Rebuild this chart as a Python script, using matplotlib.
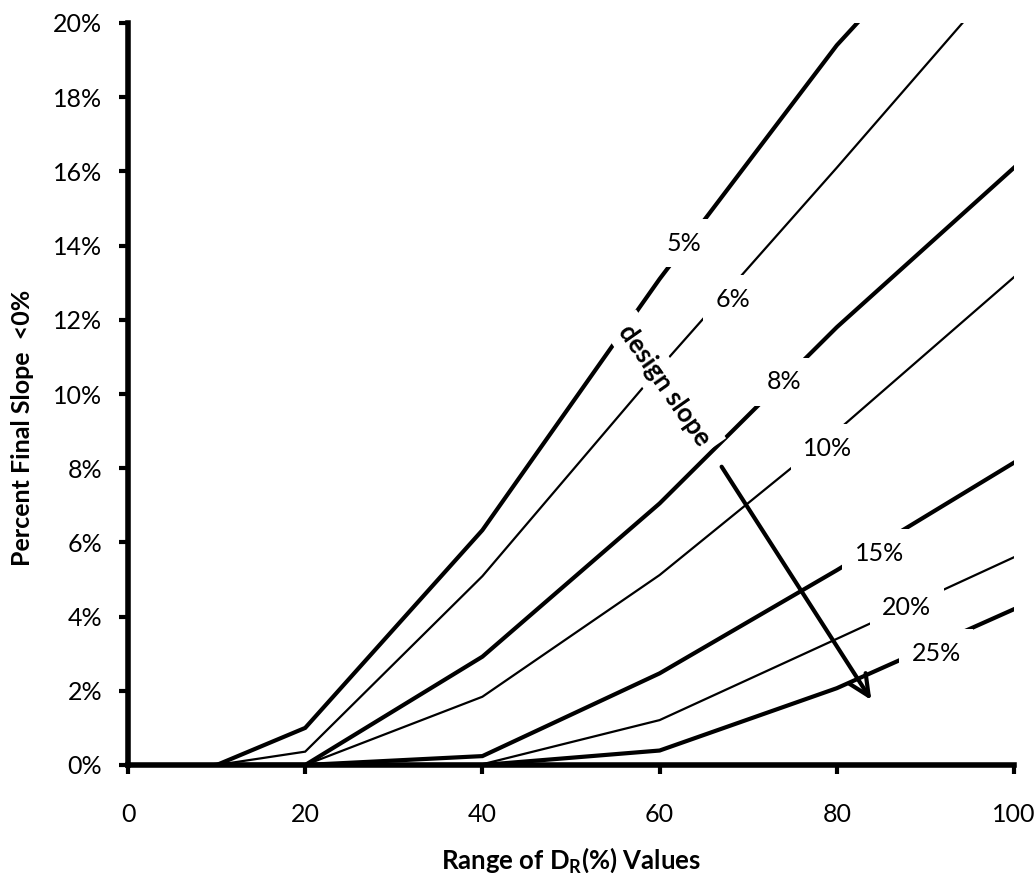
import matplotlib
matplotlib.use('Agg')
import matplotlib.pyplot as plt
from matplotlib.ticker import FuncFormatter

plt.rcParams['font.family'] = ['Lato', 'DejaVu Sans']
plt.rcParams['mathtext.fontset'] = 'custom'
plt.rcParams['mathtext.rm'] = 'Lato:bold'
plt.rcParams['mathtext.bf'] = 'Lato:bold'

# range of D_R values (x) and percent of final slopes < 0% for each design slope
dr_range = [10, 20, 40, 60, 80, 100]
slope_5 = [0, 1.0, 6.33, 13.1, 19.4, 24.6]
slope_6 = [0, 0.36, 5.09, 10.7, 16.1, 21.6]
slope_8 = [0, 0, 2.92, 7.05, 11.8, 16.1]
slope_10 = [0, 0, 1.84, 5.12, 9.0, 13.15]
slope_15 = [0, 0, 0.24, 2.47, 5.25, 8.15]
slope_20 = [0, 0, 0.02, 1.21, 3.4, 5.6]
slope_25 = [0, 0, 0, 0.39, 2.07, 4.2]

series = [
    ('5%', slope_5, 3.0, (62.7, 14.06)),
    ('6%', slope_6, 1.6, (68.3, 12.55)),
    ('8%', slope_8, 3.0, (74.0, 10.33)),
    ('10%', slope_10, 1.6, (79.0, 8.54)),
    ('15%', slope_15, 3.0, (84.8, 5.71)),
    ('20%', slope_20, 1.6, (87.9, 4.25)),
    ('25%', slope_25, 3.0, (91.2, 3.01)),
]

fig = plt.figure(figsize=(10.34, 8.73), dpi=100)
ax = fig.add_axes([128 / 1034, 1 - 765 / 873, 886 / 1034, 742 / 873])

for name, vals, lw, pos in series:
    ax.plot(dr_range, vals, color='black', lw=lw, solid_joinstyle='miter')
    ax.text(pos[0], pos[1], name, fontsize=18, ha='center', va='center',
            bbox=dict(boxstyle='square,pad=0.5', facecolor='white', edgecolor='none'))

ax.text(60.6, 10.24, 'design slope', fontsize=18.5, fontweight='bold', rotation=-55,
        ha='center', va='center', rotation_mode='anchor',
        bbox=dict(boxstyle='square,pad=0.3', facecolor='white', edgecolor='none'))

ax.annotate('', xy=(83.9, 1.75), xytext=(67.0, 8.04),
            arrowprops=dict(arrowstyle='->,head_length=0.75,head_width=0.35',
                            mutation_scale=20, lw=3, color='black',
                            shrinkA=0, shrinkB=0))

ax.set_xlim(0, 100)
ax.set_ylim(0, 20)
ax.set_xticks(range(0, 101, 20))
ax.set_yticks(range(0, 21, 2))
ax.yaxis.set_major_formatter(FuncFormatter(lambda v, p: f'{int(v)}%'))

for s in ['top', 'right']:
    ax.spines[s].set_visible(False)
for s in ['left', 'bottom']:
    ax.spines[s].set_linewidth(4)

ax.tick_params(axis='both', direction='out', length=6.5, width=3, labelsize=18)
ax.tick_params(axis='y', pad=12)
ax.tick_params(axis='x', pad=21)

ax.set_xlabel('Range of D$_\\mathrm{R}$(%) Values', fontsize=18.5, fontweight='bold')
ax.set_ylabel('Percent Final Slope  <0%', fontsize=18, fontweight='bold')
ax.xaxis.set_label_coords(0.5, -0.1075)
ax.yaxis.set_label_coords(-0.106, 0.455)

fig.savefig('out.png', dpi=100)
